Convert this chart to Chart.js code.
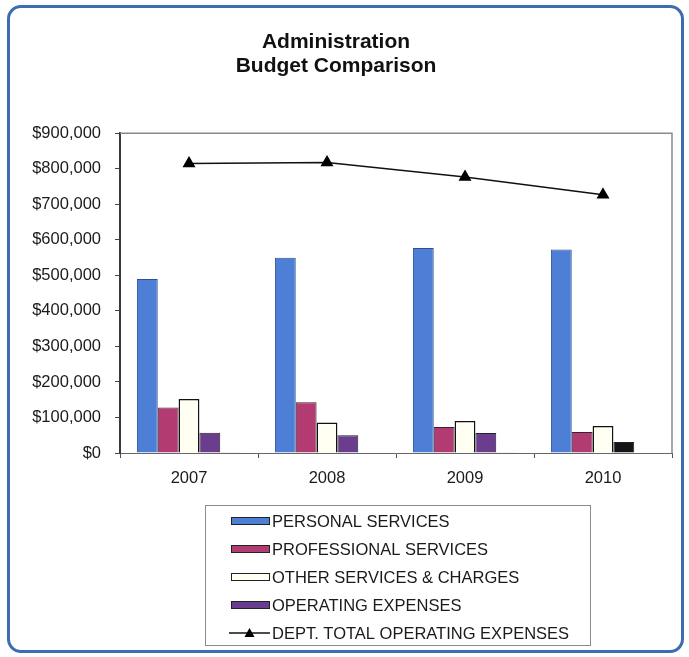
<!DOCTYPE html>
<html>
<head>
<meta charset="utf-8">
<script src="https://cdn.jsdelivr.net/npm/chart.js@4.4.1/dist/chart.umd.min.js"></script>
<style>
    html, body { margin: 0; padding: 0; background: #fff; }
    .wrap { position: relative; width: 689px; height: 657px; overflow: hidden; }
    .frame {
        position: absolute; left: 7px; top: 5px; width: 677px; height: 648px;
        box-sizing: border-box; border: 3px solid #3d6cb0; border-radius: 14px;
        pointer-events: none;
    }
    canvas { position: absolute; left: 0; top: 0; }
</style>
</head>
<body>
<div class="wrap">
    <canvas id="budgetChart" width="689" height="657"></canvas>
    <div class="frame"></div>
</div>
<script>
// budget figures per fiscal year
const years = ["2007", "2008", "2009", "2010"];
const personalServices = [490000, 550000, 577000, 573000];
const professionalServices = [128000, 143000, 73000, 59000];
const otherServices = [152000, 86000, 90000, 76000];
const operatingExpenses = [57000, 50000, 56000, 31000];
const minorItems = [2000, 1500, 1000, 0];
const deptTotal = [815000, 818000, 777000, 727000];

const yTickMax = 900000;
const yTickStep = 100000;

const FONT = "'Liberation Sans', Arial, sans-serif";

// gray frame on the top and right side of the plot
const plotFrame = {
    id: "plotFrame",
    beforeDatasetsDraw(chart) {
        const { ctx, chartArea: a } = chart;
        ctx.save();
        ctx.strokeStyle = "#8a8a8a";
        ctx.lineWidth = 1.5;
        ctx.beginPath();
        ctx.moveTo(a.left, a.top);
        ctx.lineTo(a.right, a.top);
        ctx.lineTo(a.right, a.bottom);
        ctx.stroke();
        ctx.restore();
    }
};

// boxed legend, one entry per row, under the axis
const boxLegend = {
    id: "boxLegend",
    afterDraw(chart) {
        const ctx = chart.ctx;
        const box = { x: 205, y: 505, w: 385, h: 140 };
        const rowH = 28;
        ctx.save();
        ctx.strokeStyle = "#8c8c8c";
        ctx.lineWidth = 1;
        ctx.strokeRect(box.x + 0.5, box.y + 0.5, box.w, box.h);
        ctx.font = "16.5px " + FONT;
        ctx.textBaseline = "middle";
        ctx.fillStyle = "#1a1a1a";
        let row = 0;
        chart.data.datasets.forEach((ds) => {
            if (!ds.label) return;
            const cy = box.y + 16 + row * rowH;
            if (ds.type === "line") {
                ctx.strokeStyle = "#111";
                ctx.lineWidth = 1.5;
                ctx.beginPath();
                ctx.moveTo(229, cy);
                ctx.lineTo(270, cy);
                ctx.stroke();
                ctx.fillStyle = "#000";
                ctx.beginPath();
                ctx.moveTo(249.5, cy - 5);
                ctx.lineTo(254.5, cy + 4);
                ctx.lineTo(244.5, cy + 4);
                ctx.closePath();
                ctx.fill();
            } else {
                const fill = Array.isArray(ds.backgroundColor) ? ds.backgroundColor[0] : ds.backgroundColor;
                ctx.fillStyle = fill;
                ctx.fillRect(231, cy - 4, 39, 8);
                ctx.strokeStyle = "#222";
                ctx.lineWidth = 1;
                ctx.strokeRect(231.5, cy - 3.5, 38, 7);
            }
            ctx.fillStyle = "#1a1a1a";
            ctx.fillText(ds.label, 272, cy + 1);
            row++;
        });
        ctx.restore();
    }
};

const opColors = ["#6b3d8e", "#6b3d8e", "#6b3d8e", "#141414"];

new Chart(document.getElementById("budgetChart"), {
    type: "bar",
    data: {
        labels: years,
        datasets: [
            {
                label: "PERSONAL SERVICES",
                data: personalServices,
                backgroundColor: "#4d7fd6",
                borderColor: "#2f4f8f",
                borderWidth: 1,
                order: 1
            },
            {
                label: "PROFESSIONAL SERVICES",
                data: professionalServices,
                backgroundColor: "#b23c72",
                borderColor: "#3a2030",
                borderWidth: 1,
                order: 1
            },
            {
                label: "OTHER SERVICES & CHARGES",
                data: otherServices,
                backgroundColor: "#fffff2",
                borderColor: "#111",
                borderWidth: 1.5,
                order: 1
            },
            {
                label: "OPERATING EXPENSES",
                data: operatingExpenses,
                backgroundColor: opColors,
                borderColor: "#222",
                borderWidth: 1,
                order: 1
            },
            {
                label: "",
                data: minorItems,
                backgroundColor: "#333",
                borderColor: "#333",
                borderWidth: 1,
                order: 1
            },
            {
                type: "line",
                label: "DEPT. TOTAL OPERATING EXPENSES",
                data: deptTotal,
                borderColor: "#111",
                borderWidth: 1.5,
                pointStyle: "triangle",
                pointRadius: 6,
                pointBackgroundColor: "#000",
                pointBorderColor: "#000",
                tension: 0,
                order: 0
            }
        ]
    },
    options: {
        responsive: false,
        animation: false,
        datasets: {
            bar: { categoryPercentage: 0.755, barPercentage: 1 }
        },
        layout: { padding: { top: 0, right: 17, bottom: 164, left: 0 } },
        plugins: {
            legend: { display: false },
            tooltip: { enabled: false },
            title: {
                display: true,
                text: ["Administration", "Budget Comparison"],
                color: "#111",
                font: { family: FONT, size: 21, weight: "bold", lineHeight: 1.15 },
                padding: { top: 30, bottom: 55 }
            }
        },
        scales: {
            x: {
                grid: { display: true, drawOnChartArea: false, offset: true, tickLength: 5, color: "#555" },
                border: { color: "#666", width: 1 },
                ticks: { color: "#1a1a1a", font: { family: FONT, size: 16.5 }, padding: 11 },
                afterFit(scale) { scale.height = 40; }
            },
            y: {
                min: 0,
                max: yTickMax,
                grid: { display: true, drawOnChartArea: false, tickLength: 5, color: "#444" },
                border: { color: "#3a3a3a", width: 2 },
                ticks: {
                    stepSize: yTickStep,
                    color: "#1a1a1a",
                    font: { family: FONT, size: 16.5 },
                    padding: 14,
                    callback: (v) => "$" + v.toLocaleString("en-US")
                },
                afterFit(scale) { scale.width = 120; }
            }
        }
    },
    plugins: [plotFrame, boxLegend]
});
</script>
</body>
</html>
